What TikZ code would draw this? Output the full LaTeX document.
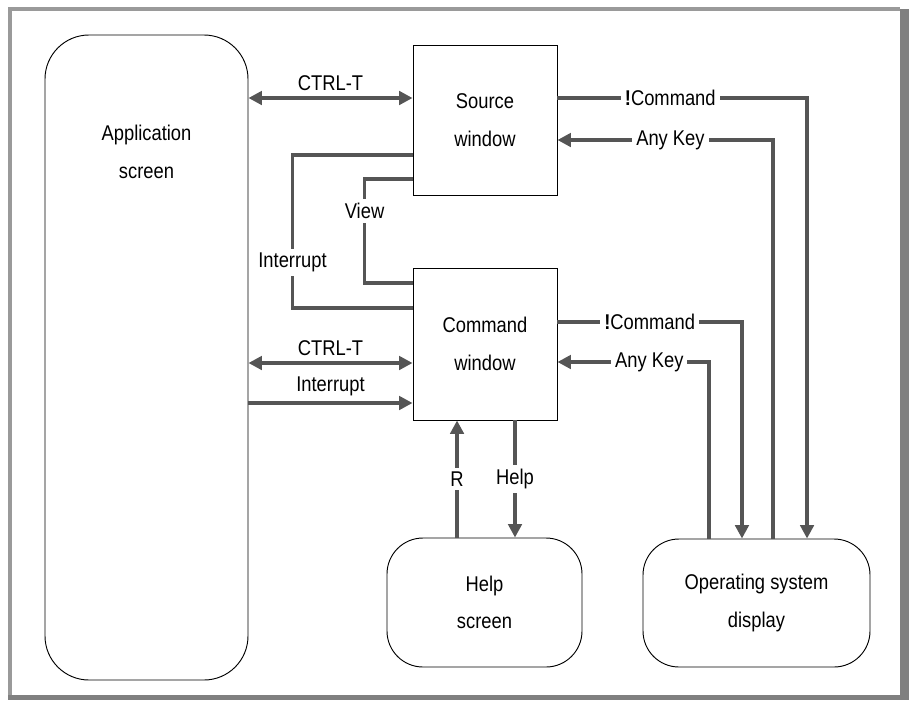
\documentclass[tikz,border=0pt]{standalone}
\usepackage{fontspec}
\setmainfont{Liberation Sans}[FakeStretch=0.86]
\usepackage{tikz}
\usetikzlibrary{arrows.meta}
\definecolor{FRlight}{HTML}{9A9A9A}
\definecolor{FRdark}{HTML}{808080}
\definecolor{LNgrey}{HTML}{555555}

\begin{document}
\begin{tikzpicture}[
  x=0.75pt, y=-0.75pt,
  font=\fontsize{16}{28}\selectfont,
  win/.style={draw, line width=0.7pt, align=center,
              minimum width=108pt, inner sep=0pt},
  scr/.style={draw, line width=0.7pt, align=center,
              rounded corners=27pt, inner sep=0pt},
  wire/.style={line width=2.5pt, LNgrey},
  arr/.style={wire, -{Triangle[length=10pt, width=10pt]}},
  darr/.style={wire, {Triangle[length=10pt, width=10pt]}-{Triangle[length=10pt, width=10pt]}},
  lbl/.style={fill=white, inner sep=3pt, text=black},
  tag/.style={above=1pt, inner sep=3pt, text=black},
]
\useasboundingbox (0,0) rectangle (909,700);
\fill[FRlight] (8,7) rectangle (900,11);
\fill[FRlight] (8,7) rectangle (12,695);
\fill[FRdark] (900,9) rectangle (909,700);
\fill[FRdark] (8,695) rectangle (909,700);

\node[scr, rounded corners=33pt, minimum width=152.25pt,
      minimum height=483.75pt] (app) at (146.5,357.5) {};
\node[align=center] (apptxt) at (146.5,152) {Application\\screen};
\node[win, minimum height=112.5pt] (src) at (485,120) {Source\\window};
\node[win, minimum height=114pt] (cmd) at (485,344) {Command\\window};
\node[scr, minimum width=146.25pt, minimum height=96.75pt]
  (help) at (484.5,602.5) {Help\\screen};
\node[scr, minimum width=170.25pt, minimum height=96pt]
  (os) at (756.5,603) {Operating system\\display};

\coordinate (c1) at ([yshift=16.5pt]src.west);
\coordinate (c2) at ([yshift=-14.25pt]cmd.west);
\coordinate (c3) at ([yshift=-44.25pt]cmd.west);
\coordinate (r) at ([xshift=-20.6pt]help.north);
\coordinate (h) at ([xshift=22.5pt]cmd.south);

\draw[darr] (c1 -| app.east) -- node[tag] {CTRL-T} (c1);
\draw[darr] (c2 -| app.east) -- node[tag] {CTRL-T} (c2);
\draw[arr] (c3 -| app.east) -- node[tag] {Interrupt} (c3);

\draw[wire] ([yshift=-26.25pt]src.west) -- ++(-120,0)
  |- node[lbl, pos=0.35] {Interrupt} ([yshift=27pt]cmd.west);
\draw[wire] ([yshift=-44.25pt]src.west) -- ++(-48,0)
  |- node[lbl, pos=0.155] {View} ([yshift=45.75pt]cmd.west);

\draw[arr] ([yshift=16.5pt]src.east)
  -| node[lbl, pos=0.226] {\textbf{!}Command} ([xshift=37.9pt]os.north);
\draw[arr] ([xshift=12.4pt]os.north)
  |- node[lbl, pos=0.738] {Any Key} ([yshift=-15pt]src.east);
\draw[arr] ([yshift=16.5pt]cmd.east)
  -| node[lbl, pos=0.25] {\textbf{!}Command} ([xshift=-10.9pt]os.north);
\draw[arr] ([xshift=-35.6pt]os.north)
  |- node[lbl, pos=0.697] {Any Key} ([yshift=-13.5pt]cmd.east);

\draw[arr] (r) -- node[lbl] {R} (r |- cmd.south);
\draw[arr] (h) -- node[lbl] {Help} (h |- help.north);
\end{tikzpicture}
\end{document}
